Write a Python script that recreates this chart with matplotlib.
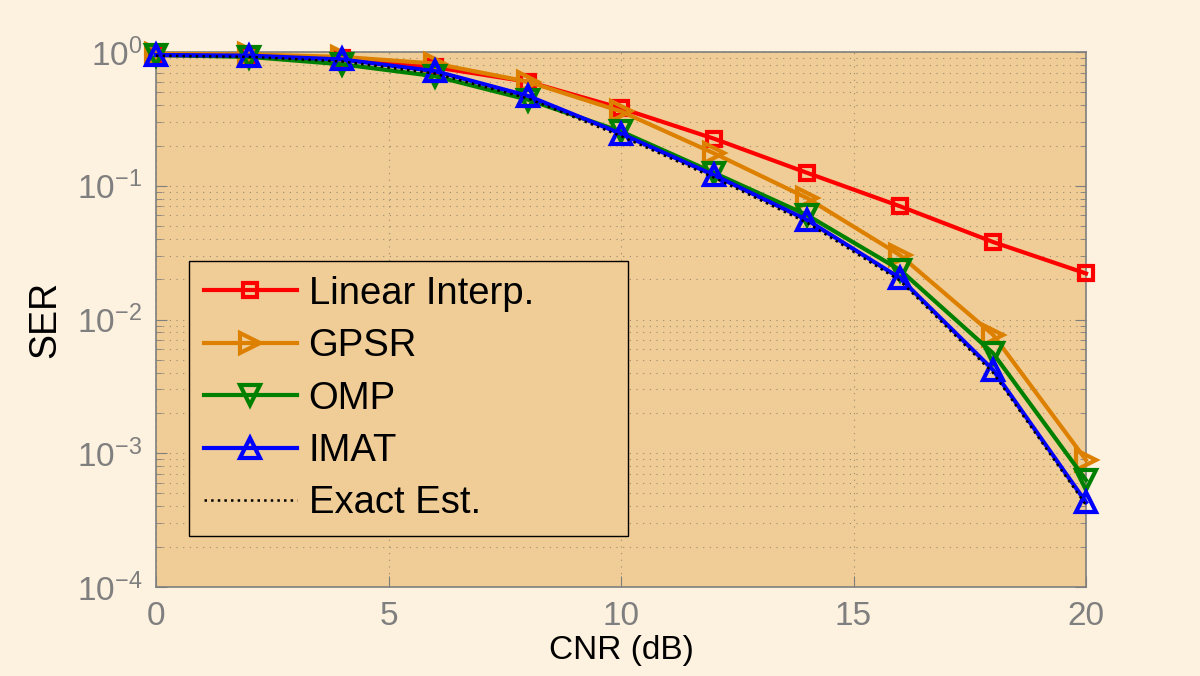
import numpy as np
import matplotlib.pyplot as plt
from matplotlib.ticker import LogLocator, NullFormatter

# --- Dati ---
cnr = [0, 2, 4, 6, 8, 10, 12, 14, 16, 18, 20]
ser_linear = [0.95, 0.95, 0.90, 0.77, 0.60, 0.38, 0.225, 0.125, 0.0703, 0.038, 0.0221]
ser_gpsr = [0.97, 0.96, 0.92, 0.82, 0.60, 0.36, 0.175, 0.081, 0.0303, 0.0077, 0.00089]
ser_omp = [0.95, 0.92, 0.81, 0.66, 0.44, 0.255, 0.125, 0.0604, 0.0235, 0.0056, 0.00063]
ser_imat = [0.95, 0.94, 0.88, 0.72, 0.47, 0.245, 0.12, 0.0555, 0.0204, 0.0042, 0.00043]
ser_exact = [0.94, 0.92, 0.85, 0.69, 0.45, 0.235, 0.115, 0.053, 0.0195, 0.0040, 0.00041]

plt.rcParams['font.family'] = ['Liberation Sans', 'DejaVu Sans']
plt.rcParams['mathtext.fontset'] = 'custom'
plt.rcParams['mathtext.rm'] = 'Liberation Sans'
plt.rcParams['mathtext.it'] = 'Liberation Sans:italic'

bg = '#FDF1DF'
axbg = '#F0CD96'
grey = '#7f7f7f'

fig = plt.figure(figsize=(12, 6.76), dpi=100, facecolor=bg)
ax = fig.add_axes([0.13, 0.1317, 0.775, 0.7913], facecolor=axbg)

lw = 3.0
mew = 3.0
ax.plot(cnr, ser_linear, '-s', color='#ff0000', lw=lw, ms=10, mfc='none', mew=mew,
        label='Linear Interp.', zorder=3, clip_on=False)
ax.plot(cnr, ser_gpsr, '->', color='#dd8000', lw=lw, ms=15, mfc='none', mew=mew,
        label='GPSR', zorder=3, clip_on=False)
ax.plot(cnr, ser_omp, '-v', color='#008000', lw=lw, ms=15, mfc='none', mew=mew,
        label='OMP', zorder=3, clip_on=False)
ax.plot(cnr, ser_imat, '-^', color='#0000ff', lw=lw, ms=15, mfc='none', mew=mew,
        label='IMAT', zorder=4, clip_on=False)
ax.plot(cnr, ser_exact, ':', color='black', lw=1.8, label='Exact Est.', zorder=5)

ax.set_yscale('log')
ax.set_xlim(0, 20)
ax.set_ylim(1e-4, 1)
ax.set_xticks([0, 5, 10, 15, 20])
ax.yaxis.set_major_locator(LogLocator(base=10, numticks=10))
ax.yaxis.set_minor_locator(LogLocator(base=10, subs=np.arange(2, 10), numticks=20))
ax.yaxis.set_minor_formatter(NullFormatter())

ax.grid(True, which='major', linestyle=(0, (1, 5)), color='#9a8a70', lw=0.8)
ax.grid(True, which='minor', axis='y', linestyle=(0, (1, 5)), color='#9a8a70', lw=0.8)

for s in ax.spines.values():
    s.set_color(grey)
    s.set_linewidth(1.2)
ax.tick_params(which='both', direction='in', colors=grey, labelsize=24,
               top=False, right=True)
ax.tick_params(which='major', length=8, pad=10)
ax.tick_params(which='minor', length=4)

ax.set_xlabel('CNR (dB)', fontsize=24, labelpad=2)
ax.set_ylabel('SER', fontsize=27, labelpad=10)

leg = ax.legend(loc='lower left', bbox_to_anchor=(0.0355, 0.0953, 0.472, 0.499),
                mode='expand', borderaxespad=0,
                fontsize=27.5, fancybox=False, edgecolor='black', facecolor=axbg,
                framealpha=1, handlelength=2.45, labelspacing=0.43, borderpad=0.38,
                handletextpad=0.3)
leg.get_frame().set_linewidth(1.0)

fig.savefig('out.png', dpi=100, facecolor=bg)
